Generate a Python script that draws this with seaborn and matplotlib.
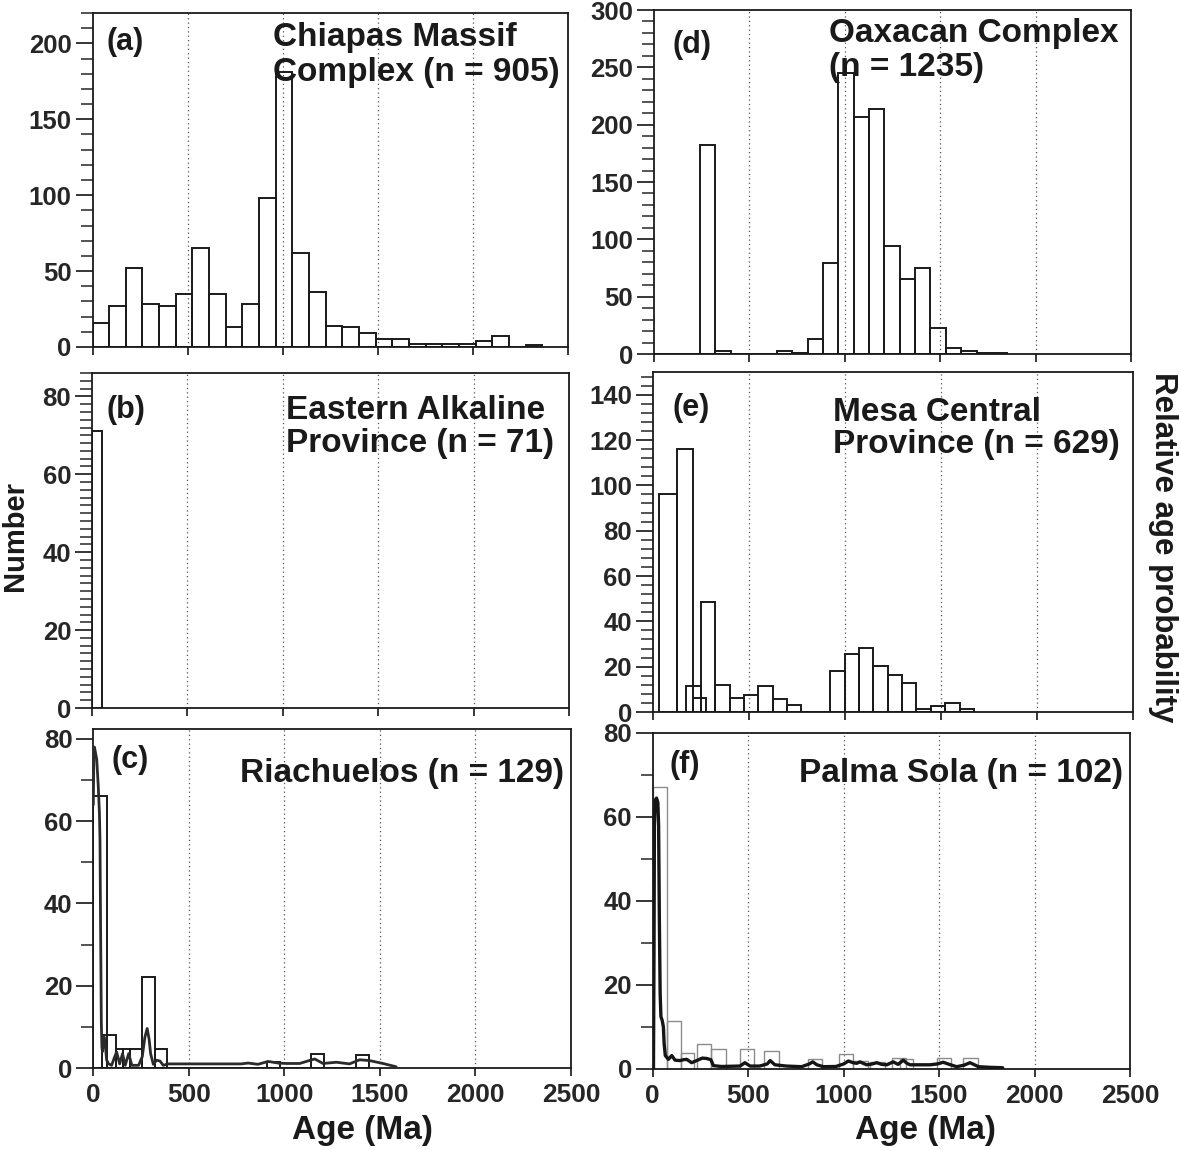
import numpy as np
import pandas as pd
import matplotlib
matplotlib.use("Agg")
import matplotlib.pyplot as plt
import seaborn as sns
from matplotlib.ticker import MultipleLocator, FixedLocator

# ------------------------------------------------------------------ data
x_ticks = [0, 500, 1000, 1500, 2000, 2500]
ref_lines = [500, 1000, 1500, 2000]

# (a) Chiapas Massif Complex
a_bin_width = 87.6
a_counts = [16, 27, 52, 28, 27, 35, 65, 35, 13, 28, 98, 181, 62, 36, 14, 13,
            9, 5, 5, 2, 2, 2, 2, 4, 7, 0, 1]

# (b) Eastern Alkaline Province
b_edges = [0, 54]
b_counts = [71]

# (c) Riachuelos
c1_edges = [0, 70]
c1_counts = [66]
c2_edges = [47, 119, 157, 192, 256, 321, 387, 909, 976, 1141, 1207, 1375, 1441]
c2_counts = [8, 4.5, 4.5, 4.5, 22, 4.5, 0, 1.5, 0, 3.3, 0, 3.2]
c_curve_age = [0, 3, 6, 10, 18, 26, 32, 35, 38, 42, 45, 48, 52, 56, 62, 70, 80,
               96, 110, 122, 138, 153, 167, 185, 202, 237, 256, 270, 282, 292,
               300, 314, 331, 349, 366, 392, 775, 810, 862, 915, 967, 1010,
               1080, 1130, 1159, 1202, 1272, 1341, 1394, 1446, 1516, 1585]
c_curve_val = [64, 76, 78, 77, 75, 68.5, 62, 55.5, 35, 11, 5, 4, 6, 7.6, 6,
               1.9, 1.0, 0.65, 2.5, 3.9, 1.0, 3.5, 0.65, 3.5, 0.65, 0.65, 2.7,
               7.5, 9.6, 7.0, 3.5, 0.9, 1.9, 1.7, 0.65, 1.0, 1.0, 1.2, 0.9,
               1.6, 1.2, 1.1, 1.1, 1.8, 2.2, 1.1, 1.4, 1.0, 2.0, 1.8, 1.1, 0.3]

# (d) Oaxacan Complex
d_bin_width = 80.5
d_counts = [0, 0, 0, 182, 3, 0, 0, 0, 3, 1, 13, 79, 245, 207, 214, 94, 65, 75,
            23, 5, 3, 1, 1]

# (e) Mesa Central Province
e1_edges = [35, 125, 211, 276]
e1_counts = [96, 116, 6]
e2_edges = [25, 100, 175, 250, 325, 400, 475, 550, 624, 699, 774, 924, 999,
            1074, 1149, 1223, 1298, 1373, 1448, 1523, 1598, 1673]
e2_counts = [0, 0, 11.5, 48.5, 11.8, 6.3, 7.6, 11.3, 5.9, 2.9, 0, 17.9, 25.6,
             28.1, 20.3, 16.5, 12.8, 1.5, 2.6, 4.0, 1.5]

# (f) Palma Sola
f1_edges = [0, 73, 147, 218, 230, 305, 382, 457, 532, 585, 662, 812, 887, 976,
            1051, 1130, 1138, 1217, 1252, 1327, 1487, 1562, 1624, 1702]
f1_counts = [67.2, 11.4, 3.7, 0, 6.0, 4.7, 0, 4.7, 0, 4.4, 0, 2.3, 0, 3.5, 2.0,
             0, 1.7, 0, 2.7, 0, 2.7, 0, 2.7]
f2_edges = [1295, 1365]
f2_counts = [2.4]
f_curve_age = [4, 7, 9, 13, 20, 27, 31, 35, 39, 43, 50, 56, 60, 66, 82, 100,
               117, 143, 160, 178, 204, 230, 260, 283, 305, 318, 360, 457, 483,
               510, 560, 600, 615, 640, 700, 780, 820, 838, 860, 894, 960,
               1000, 1025, 1050, 1068, 1086, 1105, 1121, 1150, 1173, 1200,
               1226, 1260, 1285, 1313, 1330, 1348, 1452, 1490, 1522, 1560,
               1592, 1630, 1662, 1690, 1706, 1767, 1833]
f_curve_val = [0, 30, 58, 64, 64.5, 63.5, 58, 35, 18, 12.5, 11.5, 10, 6, 3.2,
               2.3, 3.2, 2.1, 2.0, 2.2, 2.3, 1.5, 2.0, 2.6, 2.5, 2.2, 0.8, 0.6,
               0.7, 1.5, 0.7, 0.7, 1.2, 2.0, 1.0, 0.7, 0.55, 1.2, 1.7, 1.0,
               0.55, 0.6, 1.2, 1.9, 1.5, 1.35, 1.7, 1.3, 1.0, 1.2, 1.5, 1.1,
               1.0, 1.7, 1.1, 2.1, 1.4, 1.0, 1.0, 1.2, 1.6, 1.0, 0.55, 0.9,
               1.5, 0.9, 0.55, 0.4, 0.3]

panel_letters = ["(a)", "(b)", "(c)", "(d)", "(e)", "(f)"]
titles = {
    "a": "Chiapas Massif\nComplex (n = 905)",
    "b": "Eastern Alkaline\nProvince (n = 71)",
    "c": "Riachuelos (n = 129)",
    "d": "Oaxacan Complex\n(n = 1235)",
    "e": "Mesa Central\nProvince (n = 629)",
    "f": "Palma Sola (n = 102)",
}

# ------------------------------------------------------------------ style
sns.set_style("ticks")
plt.rcParams["font.family"] = ["Liberation Sans", "DejaVu Sans"]
plt.rcParams["font.weight"] = "bold"
plt.rcParams["axes.linewidth"] = 1.3
plt.rcParams["axes.edgecolor"] = "#1a1a1a"

fig = plt.figure(figsize=(11.81, 11.5), dpi=100)
W, H = 1181, 1150


def add_ax(left, right, top, bottom):
    return fig.add_axes([left / W, 1 - bottom / H, (right - left) / W,
                         (bottom - top) / H])


ax_a = add_ax(92.5, 568, 13, 347)
ax_b = add_ax(92, 569, 373, 708)
ax_c = add_ax(93.3, 571, 729, 1068)
ax_d = add_ax(654, 1131, 10, 354)
ax_e = add_ax(652.7, 1133, 372, 712)
ax_f = add_ax(652.7, 1130, 733, 1069)


def hist(ax, edges, counts, color="#1a1a1a", lw=1.4):
    edges = [float(v) for v in edges]
    centers = [(lo + hi) / 2 for lo, hi in zip(edges[:-1], edges[1:])]
    df = pd.DataFrame({"age": centers, "n": [float(c) for c in counts]})
    sns.histplot(data=df, x="age", weights="n", bins=edges, ax=ax, fill=False,
                 color=color, linewidth=lw, element="bars", zorder=2)


def regular_edges(width, n):
    return [i * width for i in range(n + 1)]


hist(ax_a, regular_edges(a_bin_width, len(a_counts)), a_counts)
hist(ax_b, b_edges, b_counts)
hist(ax_c, c1_edges, c1_counts)
hist(ax_c, c2_edges, c2_counts)
sns.lineplot(x=c_curve_age, y=c_curve_val, ax=ax_c, color="#2b2b2b",
             linewidth=2.0, zorder=3)
hist(ax_d, regular_edges(d_bin_width, len(d_counts)), d_counts)
hist(ax_e, e1_edges, e1_counts)
hist(ax_e, e2_edges, e2_counts)
hist(ax_f, f1_edges, f1_counts, color="#8c8c8c", lw=1.0)
hist(ax_f, f2_edges, f2_counts, color="#8c8c8c", lw=1.0)
sns.lineplot(x=f_curve_age, y=f_curve_val, ax=ax_f, color="#151515",
             linewidth=2.4, zorder=3)

settings = {
    ax_a: dict(ylim=220, major=50, minor=10),
    ax_b: dict(ylim=86, major=20, minor=2),
    ax_c: dict(ylim=82.4, major=20, minor=10),
    ax_d: dict(ylim=300, major=50, minor=10),
    ax_e: dict(ylim=150, major=20, minor=4),
    ax_f: dict(ylim=80, major=20, minor=10),
}

for ax, s in settings.items():
    ax.set_xlim(0, 2500)
    ax.set_ylim(0, s["ylim"])
    ax.xaxis.set_major_locator(FixedLocator(x_ticks))
    ax.yaxis.set_major_locator(MultipleLocator(s["major"]))
    ax.yaxis.set_minor_locator(MultipleLocator(s["minor"]))
    ax.set_xlabel("")
    ax.set_ylabel("")
    for xv in ref_lines:
        ax.axvline(xv, color="#555555", lw=0.9, ls=(0, (1, 2.5)), zorder=1)
    ax.tick_params(axis="y", which="major", length=12, width=1.3,
                   labelsize=18.5, pad=3, direction="out")
    ax.tick_params(axis="y", which="minor", length=8.5, width=1.1,
                   direction="out")
    ax.tick_params(axis="x", which="major", length=6, width=1.3,
                   labelsize=19, pad=5, direction="out")
    for sp in ax.spines.values():
        sp.set_visible(True)
        sp.set_linewidth(1.3)

for ax in (ax_a, ax_b, ax_d, ax_e):
    ax.tick_params(axis="x", labelbottom=False)

tkw = dict(fontsize=24, fontweight="bold", color="#1a1a1a")
lkw = dict(fontsize=22, fontweight="bold", color="#1a1a1a")

# panel letters
ax_a.text(0.030, 0.913, panel_letters[0], transform=ax_a.transAxes, va="center", ha="left", **lkw)
ax_b.text(0.030, 0.890, panel_letters[1], transform=ax_b.transAxes, va="center", ha="left", **lkw)
ax_c.text(0.038, 0.909, panel_letters[2], transform=ax_c.transAxes, va="center", ha="left", **lkw)
ax_d.text(0.039, 0.898, panel_letters[3], transform=ax_d.transAxes, va="center", ha="left", **lkw)
ax_e.text(0.042, 0.894, panel_letters[4], transform=ax_e.transAxes, va="center", ha="left", **lkw)
ax_f.text(0.036, 0.905, panel_letters[5], transform=ax_f.transAxes, va="center", ha="left", **lkw)

# panel titles
ax_a.text(0.3796, 0.973, titles["a"], transform=ax_a.transAxes, va="top", ha="left", linespacing=1.17, **tkw)
ax_b.text(0.407, 0.934, titles["b"], transform=ax_b.transAxes, va="top", ha="left", linespacing=1.07, **tkw)
ax_c.text(0.986, 0.844, titles["c"], transform=ax_c.transAxes, va="baseline", ha="right", **tkw)
ax_d.text(0.367, 0.977, titles["d"], transform=ax_d.transAxes, va="top", ha="left", linespacing=1.13, **tkw)
ax_e.text(0.375, 0.926, titles["e"], transform=ax_e.transAxes, va="top", ha="left", linespacing=1.02, **tkw)
ax_f.text(0.985, 0.854, titles["f"], transform=ax_f.transAxes, va="baseline", ha="right", **tkw)

# axis titles
fig.text(15 / W, 1 - 536 / H, "Number", rotation=90, ha="center", va="center",
         fontsize=21, fontweight="bold", color="#1a1a1a")
fig.text(1163 / W, 1 - 547 / H, "Relative age probability", rotation=270,
         ha="center", va="center", fontsize=22.5, fontweight="bold", color="#1a1a1a")
fig.text(362 / W, 1 - 1130 / H, "Age (Ma)", ha="center", va="center",
         fontsize=24, fontweight="bold", color="#1a1a1a")
fig.text(925 / W, 1 - 1130 / H, "Age (Ma)", ha="center", va="center",
         fontsize=24, fontweight="bold", color="#1a1a1a")

fig.savefig("out.png", dpi=100, facecolor="white")
